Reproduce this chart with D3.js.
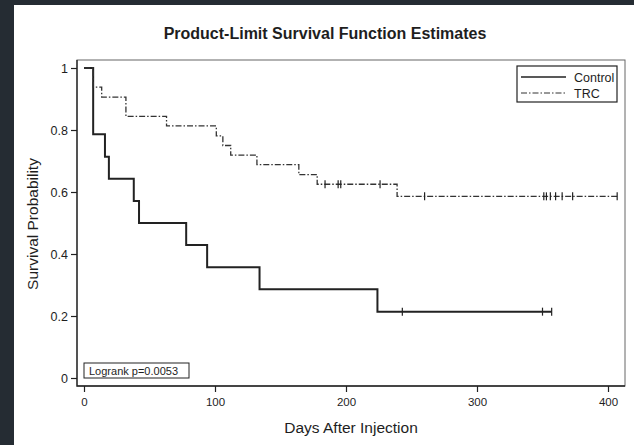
<!DOCTYPE html>
<html>
<head>
<meta charset="utf-8">
<script src="https://cdn.jsdelivr.net/npm/d3@7"></script>
<style>
  html, body { margin: 0; padding: 0; background: #252c33; }
  #wrap { position: absolute; left: 14px; top: 5px; width: 620px; height: 440px; background: #fff; }
  svg { position: absolute; left: 0; top: 0; }
  text { font-family: "Liberation Sans", Arial, sans-serif; fill: #1e1e1e; }
</style>
</head>
<body>
<div id="wrap"></div>
<svg id="svg"></svg>
<script>
// Kaplan-Meier steps (days, survival)
var controlTimes  = [0, 7, 16, 19, 38, 42, 78, 94, 134, 224];
var controlSurv   = [1, 0.786, 0.714, 0.643, 0.571, 0.5, 0.429, 0.357, 0.286, 0.214];
var controlCensor = [243, 350, 357];

var trcTimes  = [0, 7, 13.5, 32, 63, 101, 106, 112, 132, 164, 178, 239];
var trcSurv   = [1, 0.938, 0.906, 0.844, 0.813, 0.781, 0.75, 0.719, 0.688, 0.656, 0.625, 0.586];
var trcCensor = [184, 194, 196, 226, 260, 351, 353, 356, 360, 365, 373, 407];

var xTicks = [0, 100, 200, 300, 400];
var yTicks = [0, 0.2, 0.4, 0.6, 0.8, 1];

var W = 634, H = 445;
var frame = {left: 77, right: 625, top: 60, bottom: 386};

var svg = d3.select("#svg").attr("width", W).attr("height", H);

var x = d3.scaleLinear().domain([0, 400]).range([84, 608]);
var y = d3.scaleLinear().domain([0, 1]).range([378, 68]);

// surv at time t (step function)
function survAt(times, surv, t) {
	var s = surv[0];
	for (var i = 0; i < times.length; i++) {
		if (times[i] <= t) s = surv[i];
	}
	return s;
}

function steps(times, surv, end) {
	var pts = times.map(function(t, i) { return [t, surv[i]]; });
	pts.push([end, surv[surv.length - 1]]);
	return pts;
}

var line = d3.line()
	.x(function(d) { return x(d[0]); })
	.y(function(d) { return y(d[1]); })
	.curve(d3.curveStepAfter);

// title
svg.append("text")
	.attr("x", 325).attr("y", 39)
	.attr("text-anchor", "middle")
	.style("font-size", "16px").style("font-weight", "bold")
	.text("Product-Limit Survival Function Estimates");

// frame
svg.append("rect")
	.attr("x", frame.left).attr("y", frame.top)
	.attr("width", frame.right - frame.left).attr("height", frame.bottom - frame.top)
	.attr("fill", "none").attr("stroke", "#666").attr("stroke-width", 1);
svg.append("path")
	.attr("d", "M" + frame.left + "," + frame.top + "V" + frame.bottom + "H" + frame.right)
	.attr("fill", "none").attr("stroke", "#222").attr("stroke-width", 1.3);

// axes
var yAxis = svg.append("g")
	.attr("transform", "translate(" + frame.left + ",0)")
	.call(d3.axisLeft(y).tickValues(yTicks).tickSize(6).tickPadding(3)
		.tickFormat(function(d) { return (d === 0 || d === 1) ? String(d) : d3.format(".1f")(d); }));
var xAxis = svg.append("g")
	.attr("transform", "translate(0," + frame.bottom + ")")
	.call(d3.axisBottom(x).tickValues(xTicks).tickSize(6).tickPadding(6));

[xAxis, yAxis].forEach(function(a) {
	a.select(".domain").remove();
	a.selectAll("line").attr("stroke", "#222").attr("stroke-width", 1.2);
	a.selectAll("text").style("fill", "#1e1e1e")
		.style("font-family", "'Liberation Sans', Arial, sans-serif");
});
yAxis.selectAll("text").style("font-size", "12.5px");
xAxis.selectAll("text").style("font-size", "11.5px");

// axis labels
svg.append("text")
	.attr("x", 351).attr("y", 433)
	.attr("text-anchor", "middle")
	.style("font-size", "15.5px")
	.text("Days After Injection");
svg.append("text")
	.attr("transform", "translate(38,224) rotate(-90)")
	.attr("text-anchor", "middle")
	.style("font-size", "15.5px")
	.text("Survival Probability");

// curves
var groups = [
	{name: "Control", times: controlTimes, surv: controlSurv, censor: controlCensor,
	 width: 2, dash: null, color: "#222"},
	{name: "TRC", times: trcTimes, surv: trcSurv, censor: trcCensor,
	 width: 1.3, dash: "6,2,1.5,2", color: "#333"}
];

groups.forEach(function(g) {
	var end = d3.max(g.censor);
	svg.append("path")
		.datum(steps(g.times, g.surv, end))
		.attr("d", line)
		.attr("fill", "none")
		.attr("stroke", g.color)
		.attr("stroke-width", g.width)
		.attr("stroke-dasharray", g.dash);

	svg.selectAll(".cens-" + g.name)
		.data(g.censor)
		.enter()
		.append("line")
		.attr("x1", function(t) { return x(t); })
		.attr("x2", function(t) { return x(t); })
		.attr("y1", function(t) { return y(survAt(g.times, g.surv, t)) - 4; })
		.attr("y2", function(t) { return y(survAt(g.times, g.surv, t)) + 4; })
		.attr("stroke", "#222")
		.attr("stroke-width", 1.2);
});

// legend
var Legend = svg.append("g").attr("transform", "translate(517,66)");
Legend.append("rect")
	.attr("width", 100).attr("height", 36)
	.attr("fill", "#fff").attr("stroke", "#222").attr("stroke-width", 1.2);
groups.forEach(function(g, i) {
	var ly = 11 + i * 16;
	Legend.append("line")
		.attr("x1", 4).attr("x2", 49).attr("y1", ly).attr("y2", ly)
		.attr("stroke", g.color)
		.attr("stroke-width", i === 0 ? 1.3 : 1)
		.attr("stroke-dasharray", g.dash);
	Legend.append("text")
		.attr("x", 57).attr("y", ly + 4.5)
		.style("font-size", "12.5px")
		.text(g.name);
});

// logrank box
var Lr = svg.append("g").attr("transform", "translate(84,363)");
Lr.append("rect")
	.attr("width", 105).attr("height", 15)
	.attr("fill", "#fff").attr("stroke", "#222").attr("stroke-width", 1);
Lr.append("text")
	.attr("x", 5).attr("y", 11.5)
	.style("font-size", "11px")
	.text("Logrank p=0.0053");
</script>
</body>
</html>
